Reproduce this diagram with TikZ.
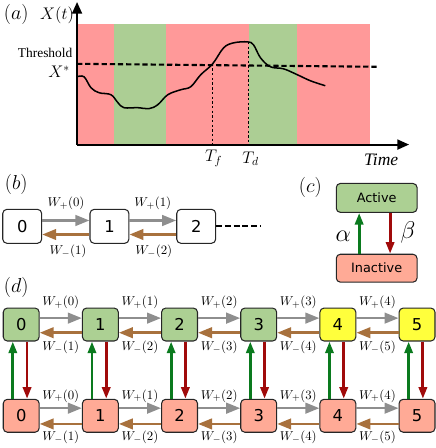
\documentclass[tikz,border=0pt]{standalone}
\usepackage{fontspec}
\usepackage{amsmath}
\newfontfamily\boxfont{DejaVu Sans}
\newfontfamily\timesfont{Liberation Serif}
\usetikzlibrary{arrows.meta}
\definecolor{stripered}{HTML}{FF9999}
\definecolor{stripegreen}{HTML}{ACCE94}
\definecolor{boxgreen}{HTML}{ACD093}
\definecolor{boxpink}{HTML}{FFAA96}
\definecolor{boxyellow}{HTML}{FFFF3C}
\definecolor{fwdgray}{HTML}{8E8E8E}
\definecolor{bwdbrown}{HTML}{A8713D}
\definecolor{upgreen}{HTML}{0A7A1E}
\definecolor{downred}{HTML}{A00A0A}
\tikzset{
  statebox/.style={draw=black!85,line width=0.9pt,rounded corners=3.5pt,inner sep=0pt,
    font=\boxfont\fontsize{14}{16}\selectfont},
  chainbox/.style={statebox,fill=white,minimum width=1.17cm,minimum height=1.02cm},
  gridbox/.style={statebox,minimum width=1.08cm,minimum height=0.99cm},
  fwd/.style={draw=fwdgray,line width=2.2pt,-{Triangle[length=12pt,width=9pt]}},
  bwd/.style={draw=bwdbrown,line width=2.2pt,-{Triangle[length=12pt,width=9pt]}},
  actarrow/.style={draw=upgreen,line width=2.4pt,-{Triangle[length=10pt,width=7pt]}},
  deactarrow/.style={draw=downred,line width=2.4pt,-{Triangle[length=10pt,width=7pt]}},
  axis/.style={line width=1.6pt,-{Triangle[length=10pt,width=8.5pt]}},
  panel/.style={font=\fontsize{16}{18}\selectfont},
  bigmath/.style={font=\fontsize{14}{16}\selectfont},
  rate/.style={font=\fontsize{11}{13}\selectfont},
}

\begin{document}
\begin{tikzpicture}[x=0.03cm,y=0.03cm]
\path (0,0) rectangle (436,448);
% (a) time course
\fill[stripered] (76,303) rectangle (113,424);
\fill[stripegreen] (113,303) rectangle (165,424);
\fill[stripered] (165,303) rectangle (248,424);
\fill[stripegreen] (248,303) rectangle (297,424);
\fill[stripered] (297,303) rectangle (370,424);
\coordinate (O) at (76,303);
\coordinate (ytop) at (76,446);
\coordinate (xend) at (409,303);
\coordinate (thl) at (76,384);
\coordinate (thr) at (378,381);
\coordinate (cf) at (212,384);
\coordinate (cfb) at (212,303);
\coordinate (cd) at (248,406);
\coordinate (cdb) at (248,303);
\draw[line width=1.8pt,dash pattern=on 4.5pt off 2.5pt] (thl) -- (thr);
\draw[line width=1.3pt] plot[smooth,tension=0.6] coordinates {(76,371) (83,371) (90,360)
  (98,355) (110,353) (117,345) (123,340) (137,340) (148,339) (157,343) (167,353)
  (180,358) (190,361) (200,373) (212,384) (223,400) (233,405) (247,406) (253,403)
  (260,390) (270,381) (283,379) (297,373) (310,367) (325,362)};
\draw[line width=0.8pt,dash pattern=on 2pt off 2pt] (cf) -- (cfb);
\draw[line width=0.8pt,dash pattern=on 2pt off 2pt] (cd) -- (cdb);
\draw[axis] (O) -- (ytop);
\draw[axis] (O) -- (xend);
\node[panel] (la) at (15,433) {$(a)$};
\node[bigmath] (xt) at (56,433) {$X(t)$};
\node[font=\timesfont\fontsize{11.5}{13}\selectfont] (thr) at (44,395) {Threshold};
\node[bigmath] (xs) at (58,376) {$X^*$};
\node[bigmath] (tf) at (213,289) {$T_f$};
\node[bigmath] (td) at (250,289) {$T_d$};
\node[font=\timesfont\itshape\fontsize{15}{17}\selectfont] (time) at (381,288) {Time};
% (b) chain
\node[panel] (lb) at (15,263) {$(b)$};
\node[chainbox] (b0) at (21,221) {0};
\node[chainbox] (b1) at (108.5,221) {1};
\node[chainbox] (b2) at (195.5,221) {2};
\coordinate (bend) at (260,221);
\draw[fwd] ([yshift=5pt]b0.east) -- ([yshift=5pt]b1.west);
\draw[fwd] ([yshift=5pt]b1.east) -- ([yshift=5pt]b2.west);
\draw[bwd] ([yshift=-7pt]b1.west) -- ([yshift=-7pt]b0.east);
\draw[bwd] ([yshift=-7pt]b2.west) -- ([yshift=-7pt]b1.east);
\draw[line width=1.6pt,dash pattern=on 5pt off 2.5pt] (b2.east) -- (bend);
\node[rate] (bp0) at (65,244) {$W_+(0)$};
\node[rate] (bp1) at (152,244) {$W_+(1)$};
\node[rate] (bm1) at (67,196) {$W_-(1)$};
\node[rate] (bm2) at (153,196) {$W_-(2)$};
% (c) two states
\node[panel] (lc) at (310,260) {$(c)$};
\node[statebox,fill=boxgreen,minimum width=2.43cm,minimum height=0.87cm,
  font=\boxfont\fontsize{11}{13}\selectfont] (act) at (376.5,249.5) {Active};
\node[statebox,fill=boxpink,minimum width=2.43cm,minimum height=0.84cm,
  font=\boxfont\fontsize{11}{13}\selectfont] (inact) at (376.5,179) {Inactive};
\draw[actarrow] ([xshift=-15pt]inact.north) -- ([xshift=-15pt]act.south);
\draw[deactarrow] ([xshift=11.5pt]act.south) -- ([xshift=11.5pt]inact.north);
\node[font=\fontsize{20}{22}\selectfont] (al) at (343,211) {$\alpha$};
\node[font=\fontsize{20}{22}\selectfont] (be) at (408,215) {$\beta$};
% (d) full lattice
\node[panel] (ld) at (15,160) {$(d)$};
\node[gridbox,fill=boxgreen] (a0) at (20,122.5) {0};
\node[gridbox,fill=boxgreen] (a1) at (99.4,122.5) {1};
\node[gridbox,fill=boxgreen] (a2) at (178.8,122.5) {2};
\node[gridbox,fill=boxgreen] (a3) at (258.2,122.5) {3};
\node[gridbox,fill=boxyellow] (a4) at (337.6,122.5) {4};
\node[gridbox,fill=boxyellow] (a5) at (417,122.5) {5};
\node[gridbox,fill=boxpink] (i0) at (20,31) {0};
\node[gridbox,fill=boxpink] (i1) at (99.4,31) {1};
\node[gridbox,fill=boxpink] (i2) at (178.8,31) {2};
\node[gridbox,fill=boxpink] (i3) at (258.2,31) {3};
\node[gridbox,fill=boxpink] (i4) at (337.6,31) {4};
\node[gridbox,fill=boxpink] (i5) at (417,31) {5};
\draw[fwd] ([yshift=5.5pt]a0.east) -- ([yshift=5.5pt]a1.west);
\draw[fwd] ([yshift=5.5pt]a1.east) -- ([yshift=5.5pt]a2.west);
\draw[fwd] ([yshift=5.5pt]a2.east) -- ([yshift=5.5pt]a3.west);
\draw[fwd] ([yshift=5.5pt]a3.east) -- ([yshift=5.5pt]a4.west);
\draw[fwd] ([yshift=5.5pt]a4.east) -- ([yshift=5.5pt]a5.west);
\draw[bwd] ([yshift=-7pt]a1.west) -- ([yshift=-7pt]a0.east);
\draw[bwd] ([yshift=-7pt]a2.west) -- ([yshift=-7pt]a1.east);
\draw[bwd] ([yshift=-7pt]a3.west) -- ([yshift=-7pt]a2.east);
\draw[bwd] ([yshift=-7pt]a4.west) -- ([yshift=-7pt]a3.east);
\draw[bwd] ([yshift=-7pt]a5.west) -- ([yshift=-7pt]a4.east);
\draw[fwd] ([yshift=6.5pt]i0.east) -- ([yshift=6.5pt]i1.west);
\draw[fwd] ([yshift=6.5pt]i1.east) -- ([yshift=6.5pt]i2.west);
\draw[fwd] ([yshift=6.5pt]i2.east) -- ([yshift=6.5pt]i3.west);
\draw[fwd] ([yshift=6.5pt]i3.east) -- ([yshift=6.5pt]i4.west);
\draw[fwd] ([yshift=6.5pt]i4.east) -- ([yshift=6.5pt]i5.west);
\draw[bwd] ([yshift=-7pt]i1.west) -- ([yshift=-7pt]i0.east);
\draw[bwd] ([yshift=-7pt]i2.west) -- ([yshift=-7pt]i1.east);
\draw[bwd] ([yshift=-7pt]i3.west) -- ([yshift=-7pt]i2.east);
\draw[bwd] ([yshift=-7pt]i4.west) -- ([yshift=-7pt]i3.east);
\draw[bwd] ([yshift=-7pt]i5.west) -- ([yshift=-7pt]i4.east);
\draw[actarrow] ([xshift=-7.2pt]i0.north) -- ([xshift=-7.2pt]a0.south);
\draw[actarrow] ([xshift=-7.2pt]i1.north) -- ([xshift=-7.2pt]a1.south);
\draw[actarrow] ([xshift=-7.2pt]i2.north) -- ([xshift=-7.2pt]a2.south);
\draw[actarrow] ([xshift=-7.2pt]i3.north) -- ([xshift=-7.2pt]a3.south);
\draw[actarrow] ([xshift=-7.2pt]i4.north) -- ([xshift=-7.2pt]a4.south);
\draw[actarrow] ([xshift=-7.2pt]i5.north) -- ([xshift=-7.2pt]a5.south);
\draw[deactarrow] ([xshift=5pt]a0.south) -- ([xshift=5pt]i0.north);
\draw[deactarrow] ([xshift=5pt]a1.south) -- ([xshift=5pt]i1.north);
\draw[deactarrow] ([xshift=5pt]a2.south) -- ([xshift=5pt]i2.north);
\draw[deactarrow] ([xshift=5pt]a3.south) -- ([xshift=5pt]i3.north);
\draw[deactarrow] ([xshift=5pt]a4.south) -- ([xshift=5pt]i4.north);
\draw[deactarrow] ([xshift=5pt]a5.south) -- ([xshift=5pt]i5.north);
\node[rate] (ap0) at (59.7,145) {$W_+(0)$};
\node[rate] (ap1) at (139.1,145) {$W_+(1)$};
\node[rate] (ap2) at (218.5,145) {$W_+(2)$};
\node[rate] (ap3) at (297.9,145) {$W_+(3)$};
\node[rate] (ap4) at (377.3,145) {$W_+(4)$};
\node[rate] (am1) at (59.7,100) {$W_-(1)$};
\node[rate] (am2) at (139.1,100) {$W_-(2)$};
\node[rate] (am3) at (218.5,100) {$W_-(3)$};
\node[rate] (am4) at (297.9,100) {$W_-(4)$};
\node[rate] (am5) at (377.3,100) {$W_-(5)$};
\node[rate] (ip0) at (59.7,51) {$W_+(0)$};
\node[rate] (ip1) at (139.1,51) {$W_+(1)$};
\node[rate] (ip2) at (218.5,51) {$W_+(2)$};
\node[rate] (ip3) at (297.9,51) {$W_+(3)$};
\node[rate] (ip4) at (377.3,51) {$W_+(4)$};
\node[rate] (im1) at (59.7,9) {$W_-(1)$};
\node[rate] (im2) at (139.1,9) {$W_-(2)$};
\node[rate] (im3) at (218.5,9) {$W_-(3)$};
\node[rate] (im4) at (297.9,9) {$W_-(4)$};
\node[rate] (im5) at (377.3,9) {$W_-(5)$};
\end{tikzpicture}
\end{document}
